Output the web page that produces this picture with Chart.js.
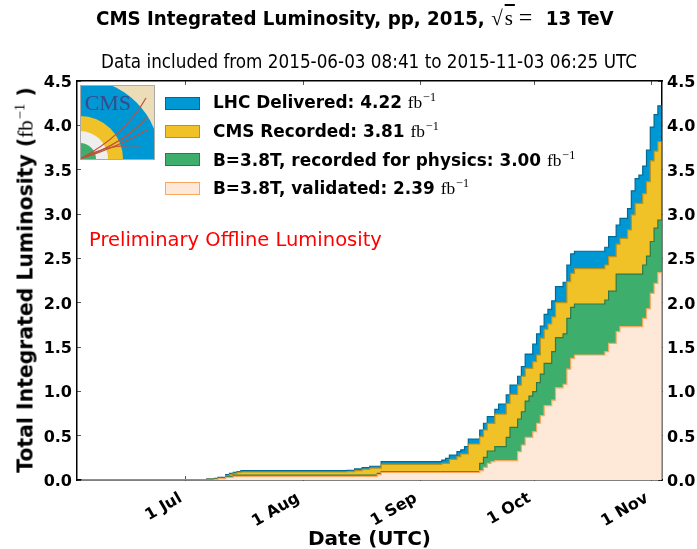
<!DOCTYPE html>
<html><head><meta charset="utf-8">
<script src="https://cdn.jsdelivr.net/npm/chart.js@4"></script>
<style>
html,body{margin:0;padding:0;background:#fff;overflow:hidden}
#wrap{position:relative;width:697px;height:549px;overflow:hidden}
canvas{position:absolute;left:0;top:0}
.t{position:absolute;white-space:nowrap;color:#000;font-family:"DejaVu Sans",sans-serif;line-height:1}
.b{font-weight:bold}
.m{font-family:"Liberation Serif",serif;font-weight:normal;font-size:1.03em}
sup{font-size:.72em;line-height:0;vertical-align:.55em;font-family:"Liberation Serif",serif;font-weight:normal;margin-left:1px}
.sw{position:absolute;left:165px;width:33px;height:11px;border:1.5px solid}
.lg{left:213px;font-size:16.9px}
</style></head><body><div id="wrap">
<canvas id="c" width="697" height="549"></canvas>
<div class="t b" style="left:96px;top:6px;font-family:'DejaVu Sans Condensed','DejaVu Sans';font-size:20.3px;line-height:24px">CMS Integrated Luminosity, pp, 2015, <span class="m" style="font-size:21px;letter-spacing:2px;line-height:0">√<span style="text-decoration:overline">s</span></span><span class="m" style="font-size:24px;margin-left:4px;margin-right:7px;line-height:0">=</span> 13 TeV</div>
<div class="t" style="left:101px;top:53px;font-family:'DejaVu Sans Condensed','DejaVu Sans';font-size:18.7px">Data included from 2015-06-03 08:41 to 2015-11-03 06:25 UTC</div>
<div class="t b" id="yt" style="left:26px;top:280px;font-size:20.4px;transform:translate(-50%,-50%) rotate(-90deg)">Total Integrated Luminosity (<span class="m">fb</span><sup>−1</sup> )</div>
<div class="t" style="left:89px;top:230px;font-size:19.5px;color:#f00">Preliminary Offline Luminosity</div>
<div class="sw" style="top:97px;background:#0098d4;border-color:#006a94"></div>
<div class="sw" style="top:125px;background:#f1c228;border-color:#b8931e"></div>
<div class="sw" style="top:153px;background:#3eae6c;border-color:#2b7a4c"></div>
<div class="sw" style="top:182px;background:#fee8d7;border-color:#f8a95f"></div>
<div class="t b lg" style="top:94px">LHC Delivered: 4.22 <span class="m">fb</span><sup>−1</sup></div>
<div class="t b lg" style="top:123px">CMS Recorded: 3.81 <span class="m">fb</span><sup>−1</sup></div>
<div class="t b lg" style="top:152px">B=3.8T, recorded for physics: 3.00 <span class="m">fb</span><sup>−1</sup></div>
<div class="t b lg" style="top:180px">B=3.8T, validated: 2.39 <span class="m">fb</span><sup>−1</sup></div>
<svg style="position:absolute;left:80px;top:85px" width="75" height="75" viewBox="0 0 75 75">
<rect width="75" height="75" fill="#ecdcb8"/>
<circle cx="0" cy="74" r="80" fill="#0098d4"/>
<circle cx="0" cy="74" r="43" fill="#f1c228"/>
<circle cx="0" cy="74" r="28" fill="#eeeeee"/>
<circle cx="0" cy="74" r="16" fill="#3eae6c"/>
<rect y="74" width="75" height="1" fill="#ecdcb8"/>
<g fill="none" stroke="#c0503c" stroke-width="1.2">
<path d="M0 74 Q45 50 66 13"/><path d="M0 74 Q45 58 67 32"/><path d="M0 74 Q38 62 67 45"/><path d="M0 74 Q28 58 59 61"/>
</g>
<text x="5" y="24.5" font-family="Liberation Serif" font-size="21" fill="#3a4a8a" textLength="46" lengthAdjust="spacingAndGlyphs">CMS</text>
<rect x=".5" y=".5" width="74" height="74" fill="none" stroke="#aaa" stroke-width="1"/>
</svg>
</div>
<script>
// Day numbers count from 1 June 2015 = 0. Each value holds from its day until the next listed day.
const stepOffset = 0.55;
const lastDay = 155;
const tickDays = [30, 61, 92, 122, 153];
const tickLabels = ['1 Jul', '1 Aug', '1 Sep', '1 Oct', '1 Nov'];
const yTicks = [0, 0.5, 1, 1.5, 2, 2.5, 3, 3.5, 4, 4.5];

const deliveredDays = [2,33,35,37,38,40,41,42,43,44,72,74,76,78,81,97,98,99,101,102,103,104,107,108,109,111,112,114,115,117,118,119,121,122,123,124,125,126,127,129,130,131,132,140,141,143,144,146,147,148,149,150,151,152,153,154];
const deliveredVals = [0.002,0.005,0.012,0.02,0.03,0.06,0.075,0.085,0.094,0.105,0.11,0.125,0.14,0.155,0.207,0.225,0.245,0.28,0.32,0.34,0.376,0.46,0.564,0.64,0.714,0.797,0.857,0.959,1.07,1.17,1.28,1.42,1.534,1.647,1.737,1.868,1.925,2.02,2.18,2.23,2.425,2.55,2.58,2.625,2.744,2.876,2.95,3.06,3.26,3.40,3.44,3.54,3.72,3.98,4.12,4.22];

const recordedDays = [2,33,35,37,38,40,41,42,43,44,72,74,76,78,81,97,99,101,102,104,107,108,109,111,114,115,117,118,119,121,122,123,124,125,126,127,130,131,132,140,141,143,144,146,147,148,150,151,152,153,154];
const recordedVals = [0.002,0.004,0.01,0.016,0.025,0.05,0.065,0.075,0.085,0.09,0.095,0.105,0.12,0.135,0.177,0.188,0.233,0.263,0.293,0.406,0.489,0.564,0.639,0.744,0.865,0.966,1.07,1.17,1.26,1.335,1.41,1.6,1.70,1.76,1.84,2.0,2.237,2.33,2.383,2.425,2.52,2.66,2.725,2.82,2.99,3.12,3.23,3.365,3.6,3.71,3.815];

const physicsDays = [2,35,37,38,40,42,80,81,107,108,109,111,114,115,117,118,119,120,121,122,123,124,126,127,129,130,131,132,140,141,143,150,151,152,153,154];
const physicsVals = [0.001,0.005,0.015,0.025,0.04,0.056,0.075,0.094,0.188,0.256,0.327,0.376,0.48,0.594,0.688,0.77,0.89,0.947,0.996,1.098,1.195,1.316,1.447,1.605,1.647,1.823,1.947,1.985,2.03,2.13,2.323,2.425,2.526,2.69,2.84,2.93];

const validatedDays = [2,37,38,40,42,80,81,107,108,109,110,111,117,118,119,121,122,123,124,126,127,129,130,131,132,140,141,143,144,150,151,152,153,154];
const validatedVals = [0,0.008,0.015,0.03,0.04,0.06,0.087,0.105,0.143,0.188,0.207,0.218,0.32,0.395,0.48,0.545,0.64,0.726,0.838,0.90,1.04,1.08,1.25,1.372,1.41,1.447,1.54,1.673,1.73,1.823,1.93,2.105,2.218,2.338];

function points(days, vals) {
  const pts = days.map((d, i) => ({x: d + stepOffset, y: vals[i]}));
  pts.push({x: lastDay + stepOffset, y: vals[vals.length - 1]});
  return pts;
}
function series(label, days, vals, fill, edge, order) {
  return {label, data: points(days, vals), backgroundColor: fill, borderColor: edge, borderWidth: 1.2,
          fill: 'origin', stepped: true, pointRadius: 0, order, parsing: false};
}
const setTicks = (vals) => (s) => { s.ticks = vals.map(v => ({value: v})); };
const tickGrid = {drawOnChartArea: false, tickLength: -4, tickColor: '#555', tickWidth: 1};
const axisBorder = {color: '#000', width: 1.5};
// a blank first line with a small line height nudges the number 2px below its tick
const tickFont = {family: 'DejaVu Sans', weight: 'bold', size: 16, lineHeight: '4px'};
const yLabel = v => ['', v.toFixed(1)];

new Chart(document.getElementById('c'), {
  type: 'line',
  data: {datasets: [
    series('LHC Delivered', deliveredDays, deliveredVals, '#0098d4', '#006a94', 4),
    series('CMS Recorded', recordedDays, recordedVals, '#f1c228', '#b8931e', 3),
    series('B=3.8T, recorded for physics', physicsDays, physicsVals, '#3eae6c', '#2b7a4c', 2),
    series('B=3.8T, validated', validatedDays, validatedVals, '#fee8d7', '#f8a95f', 1)
  ]},
  options: {
    responsive: false, animation: false,
    layout: {padding: {top: 81, left: 0, right: 0, bottom: 0}},
    plugins: {legend: {display: false}, title: {display: false}, tooltip: {enabled: false}},
    scales: {
      x: {type: 'linear', position: 'bottom', min: 1.33, max: 155.64,
        afterBuildTicks: setTicks(tickDays),
        afterFit: s => { s.height = 69; },
        grid: tickGrid, border: axisBorder,
        ticks: {autoSkip: false, minRotation: 30, maxRotation: 30, padding: 10, color: '#000',
          font: {family: 'DejaVu Sans', weight: 'bold', size: 16},
          callback: (v) => tickLabels[tickDays.indexOf(v)] + ' '},
        title: {display: true, text: 'Date (UTC)', color: '#000', padding: {top: 0, bottom: -3},
          font: {family: 'DejaVu Sans', weight: 'bold', size: 20}}},
      xTop: {type: 'linear', position: 'top', min: 1.33, max: 155.64,
        afterBuildTicks: setTicks(tickDays),
        afterFit: s => { s.height = 0; },
        grid: tickGrid, border: axisBorder, ticks: {display: false}},
      y: {type: 'linear', position: 'left', min: 0, max: 4.5,
        afterBuildTicks: setTicks(yTicks),
        afterFit: s => { s.width = 77; },
        grid: tickGrid, border: axisBorder,
        ticks: {padding: 9, color: '#000', font: tickFont, callback: yLabel}},
      yRight: {type: 'linear', position: 'right', min: 0, max: 4.5,
        afterBuildTicks: setTicks(yTicks),
        afterFit: s => { s.width = 35; },
        grid: tickGrid, border: axisBorder,
        ticks: {padding: 9, color: '#000', font: tickFont, callback: yLabel}}
    }
  }
});
</script></body></html>
